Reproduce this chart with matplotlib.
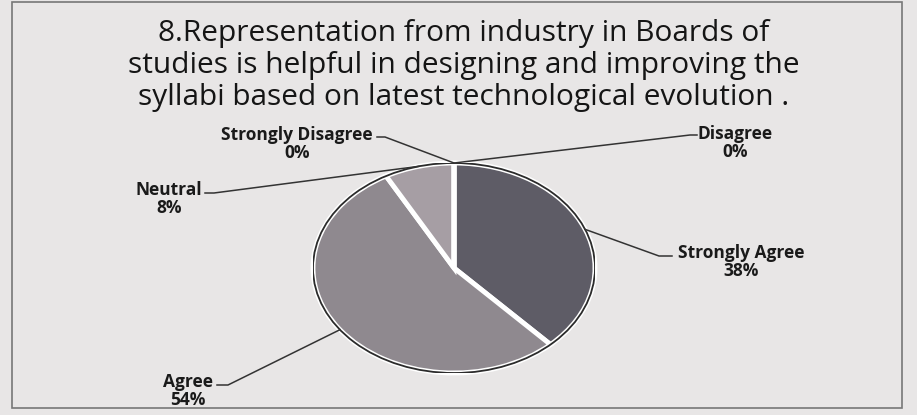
import matplotlib.pyplot as plt
from matplotlib.lines import Line2D
from matplotlib.patches import Ellipse, Rectangle
import numpy as np

plt.rcParams['font.family'] = ['Open Sans', 'DejaVu Sans']

title_lines = ["8.Representation from industry in Boards of",
               "studies is helpful in designing and improving the",
               "syllabi based on latest technological evolution ."]
categories = ["Strongly Agree", "Agree", "Neutral", "Strongly Disagree", "Disagree"]
values = [38, 54, 8, 0, 0]
colors = ["#5e5c66", "#8f898f", "#a69ea4", "#8a8a8a", "#7a7a7a"]

W, H = 917, 415
bg = "#e8e6e6"

fig = plt.figure(figsize=(W / 100, H / 100), dpi=100, facecolor=bg)

def px(x, y):
    # pixel coords (top-left origin) -> figure fraction
    return x / W, 1 - y / H

# chart border
fig.add_artist(Rectangle(px(12, 408), 890 / W, 406 / H, transform=fig.transFigure,
                         fill=False, edgecolor="#777777", lw=1.2))

# title
for i, line in enumerate(title_lines):
    fig.text(*px(464, 41 + i * 32), line, ha="center", va="baseline",
             fontsize=21.5, color="#151515")

# pie, squashed into an ellipse
cx, cy, a, b = 454, 268, 141, 105
ax = fig.add_axes([(cx - a) / W, 1 - (cy + b) / H, 2 * a / W, 2 * b / H])
wedges, _ = ax.pie(values, colors=colors, startangle=90, counterclock=False,
                   wedgeprops=dict(edgecolor="white", linewidth=3.5))
ax.set_aspect("auto")
ax.set_xlim(-1, 1)
ax.set_ylim(-1, 1)
ax.axis("off")
ax.add_patch(Ellipse((0, 0), 2, 2, fill=False, edgecolor="#2b2b2b", lw=1.3, zorder=5))

to_fig = ax.transData + fig.transFigure.inverted()

def edge_point(w, frac=0.5):
    t = np.radians(w.theta1 + (w.theta2 - w.theta1) * frac)
    return to_fig.transform((np.cos(t), np.sin(t)))

# label text positions (block centre) and leader elbows
label_pos = {
    "Strongly Agree": (741, 262),
    "Agree": (188, 391),
    "Neutral": (169, 199),
    "Strongly Disagree": (297, 144),
    "Disagree": (735, 143),
}
leaders = {
    "Strongly Agree": [(672, 256), (659, 256)],
    "Agree": [(217, 385), (228, 385)],
    "Neutral": [(205, 193), (214, 193)],
    "Strongly Disagree": [(377, 137), (385, 137)],
    "Disagree": [(697, 135), (690, 135)],
}

for w, cat, v in zip(wedges, categories, values):
    fig.text(*px(*label_pos[cat]), f"{cat}\n{v}%", ha="center", va="center",
             fontsize=12.5, fontweight="bold", color="#1a1a1a", linespacing=1.05)
    pts = [px(*p) for p in leaders[cat]]
    pts.append(edge_point(w))
    xs, ys = zip(*pts)
    fig.add_artist(Line2D(xs, ys, transform=fig.transFigure, color="#333333", lw=1.1))

plt.savefig("out.png", dpi=100, facecolor=bg)
